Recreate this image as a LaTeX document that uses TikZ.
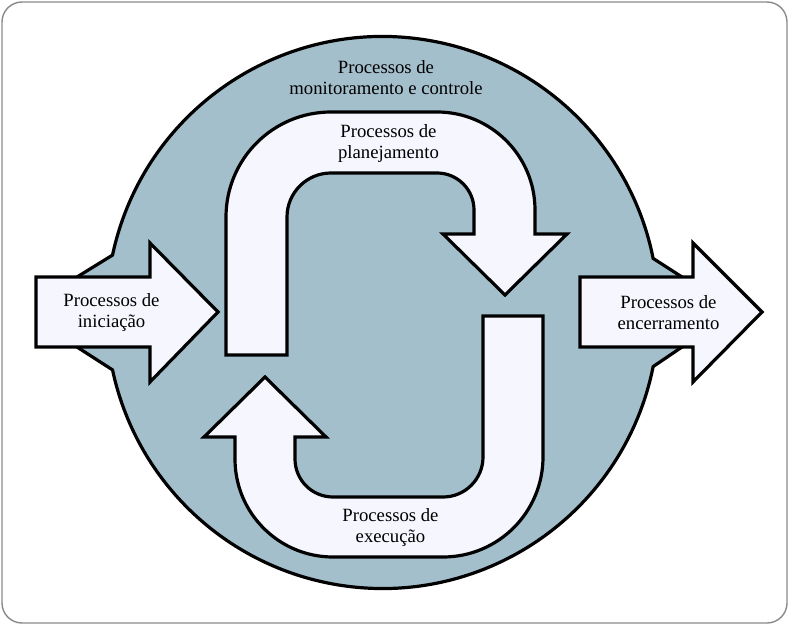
\documentclass[tikz,border=0pt]{standalone}
\usepackage{fontspec}
\setmainfont{Liberation Serif}
\usetikzlibrary{calc}
\definecolor{discblue}{HTML}{A4BFCC}
\definecolor{arrowfill}{HTML}{F5F6FE}
\definecolor{framegray}{HTML}{8A8A8A}
\tikzset{
  outl/.style={draw=black, line width=3.2pt, line join=miter, miter limit=10},
  disc/.style={outl, fill=discblue},
  bigarrow/.style={outl, fill=arrowfill},
  lbl/.style={align=center, inner sep=0pt, font=\fontsize{18.7}{21}\selectfont},
  framebox/.style={draw=framegray, line width=1.4pt, rounded corners=20pt, fill=white}
}
\begin{document}
\begin{tikzpicture}[x=1pt, y=1pt]
\useasboundingbox (0,0) rectangle (790,625);
\path[framebox] (2,2) rectangle (787,623);
\coordinate (c) at (382.5,312.5);
% monitoring disc
\path[disc] ($(c)+(168:276)$) arc[start angle=168, end angle=11.3, radius=276]
  -- (682,348) -- (682,278)
  -- ($(c)+(-11.3:276)$) arc[start angle=-11.3, end angle=-168, radius=276]
  -- (77,278) -- (77,348) -- cycle;
% initiation arrow
\path[bigarrow] (36,348) -- (150,348) -- (150,382) -- (218,313) -- (150,243) -- (150,278) -- (36,278) -- cycle;
% closing arrow
\path[bigarrow] (580,348) -- (693,348) -- (693,382) -- (762,313) -- (693,243) -- (693,278) -- (580,278) -- cycle;
% planning arrow
\path[bigarrow] (226,270) -- (226,408) arc[start angle=180, end angle=90, radius=105]
  -- (437,513) arc[start angle=90, end angle=0, radius=98]
  -- (535,391) -- (567,391) -- (505,330) -- (443,391) -- (474,391)
  -- (474,415) arc[start angle=0, end angle=90, radius=37]
  -- (331,452) arc[start angle=90, end angle=180, radius=44]
  -- (287,270) -- cycle;
% execution arrow
\path[bigarrow] (483,309) -- (543,309) -- (543,168) arc[start angle=0, end angle=-90, radius=100]
  -- (333,68) arc[start angle=-90, end angle=-180, radius=98]
  -- (235,188) -- (204,188) -- (265,248) -- (326,188) -- (295,188)
  -- (295,166) arc[start angle=180, end angle=270, radius=38]
  -- (443,128) arc[start angle=270, end angle=360, radius=40]
  -- cycle;
% labels
\node[lbl] (mon) at (386,547) {Processos de\\monitoramento e controle};
\node[lbl] (pla) at (388.5,481) {Processos de\\planejamento};
\node[lbl] (ini) at (111.5,312.5) {Processos de\\iniciação};
\node[lbl] (enc) at (668.5,312) {Processos de\\encerramento};
\node[lbl] (exe) at (390.5,97.5) {Processos de\\execução};
\end{tikzpicture}
\end{document}
